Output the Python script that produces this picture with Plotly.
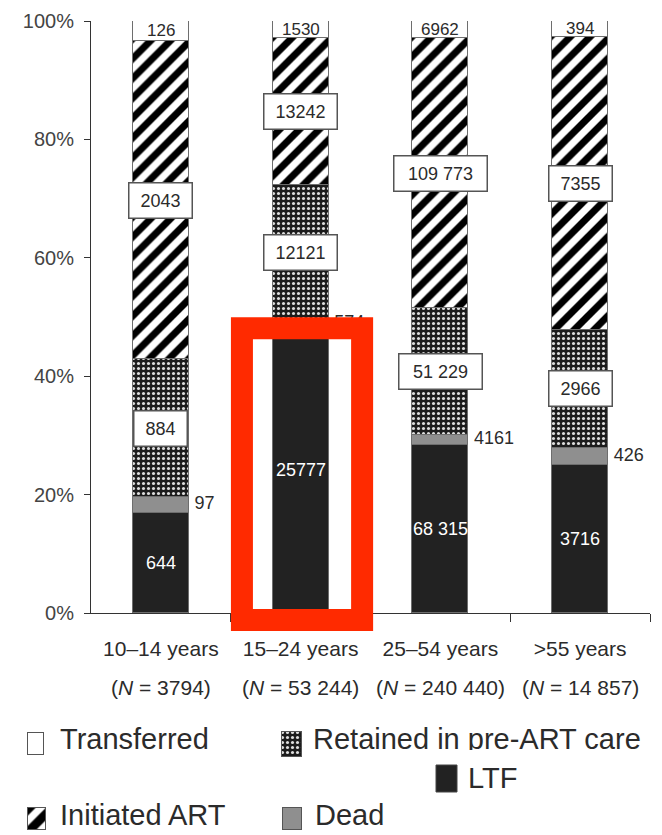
import plotly.graph_objects as go

# Outcome counts per age group (stacked as share of each group's N)
groups = ["10–14 years", "15–24 years", "25–54 years", ">55 years"]
group_n = [3794, 53244, 240440, 14857]
ltf = [644, 25777, 68315, 3716]
dead = [97, 574, 4161, 426]
retained = [884, 12121, 51229, 2966]
initiated_art = [2043, 13242, 109773, 7355]
transferred = [126, 1530, 6962, 394]
space_grouped = [False, False, True, False]
y_ticks = [0, 20, 40, 60, 80, 100]
highlight_group = 1

W, H = 662, 835
PLOT_L, PLOT_R, PLOT_T, PLOT_B = 91, 650, 21, 613
FONT = "Liberation Sans, Arial, sans-serif"
INK = "#2b2b2b"
BAR_W = 0.4
EDGE = dict(color="#6e6e6e", width=1)

HATCH_ART = dict(shape="/", fgcolor="#000000", bgcolor="white", size=14, solidity=0.5,
                 fgopacity=1, fillmode="replace")
HATCH_RET = dict(shape=".", fgcolor="white", bgcolor="#1c1c1c", size=5, solidity=0.3,
                 fgopacity=0.85, fillmode="replace")


def fmt(v, spaced):
    return f"{v:,}".replace(",", " ") if (spaced and v >= 10000) else str(v)


def pct(vals):
    return [v / n * 100 for v, n in zip(vals, group_n)]


xs = list(range(len(groups)))

series = [
    ("LTF", ltf, dict(color="#222222")),
    ("Dead", dead, dict(color="#8f8f8f")),
    ("Retained in pre-ART care", retained, dict(color="#1c1c1c", pattern=HATCH_RET)),
    ("Initiated ART", initiated_art, dict(color="white", pattern=HATCH_ART)),
    ("Transferred", transferred, dict(color="white")),
]

fig = go.Figure()
base = [0.0] * len(xs)
mids = {}
for name, vals, marker in series:
    p = pct(vals)
    mids[name] = [b + v / 2 for b, v in zip(base, p)]
    fig.add_trace(go.Bar(
        x=xs, y=p, width=BAR_W, name=name,
        marker=dict(**marker, line=EDGE, opacity=1),
        showlegend=False, hoverinfo="skip",
    ))
    base = [b + v for b, v in zip(base, p)]

annotations = []
NUM_SIZE = 18


def boxed(i, y, text):
    annotations.append(dict(
        x=i, y=y, xref="x", yref="y", text=text, showarrow=False,
        font=dict(family=FONT, size=NUM_SIZE, color=INK),
        bgcolor="white", bordercolor="#555555", borderwidth=1.5, borderpad=3,
        width=10 * len(text) + 16, height=28, align="center", valign="middle",
    ))


for i in xs:
    sp = space_grouped[i]
    boxed(i, mids["Initiated ART"][i], fmt(initiated_art[i], sp))
    boxed(i, mids["Retained in pre-ART care"][i], fmt(retained[i], sp))
    annotations.append(dict(
        x=i, y=mids["LTF"][i], xref="x", yref="y", text=fmt(ltf[i], sp),
        showarrow=False, font=dict(family=FONT, size=NUM_SIZE, color="white"),
    ))
    annotations.append(dict(
        x=i, y=mids["Transferred"][i], xref="x", yref="y", text=fmt(transferred[i], sp),
        showarrow=False, font=dict(family=FONT, size=17, color=INK),
    ))

# Dead counts sit beside each bar
fig.add_trace(go.Scatter(
    x=[i + BAR_W / 2 + 0.04 for i in xs], y=mids["Dead"],
    text=[fmt(v, s) for v, s in zip(dead, space_grouped)],
    mode="text", textposition="middle right",
    textfont=dict(family=FONT, size=NUM_SIZE, color=INK),
    showlegend=False, hoverinfo="skip", cliponaxis=False,
))


# Red frame around the LTF bar of the highlighted group
def xdom(x):
    return (x + 0.5) / len(xs)


ltf_pct = pct(ltf)
shapes = [dict(
    type="rect", xref="x domain", yref="y domain",
    x0=xdom(highlight_group - 0.42), x1=xdom(highlight_group + 0.44),
    y0=-0.012, y1=(ltf_pct[highlight_group] - 0.3) / 100,
    line=dict(color="#ff2a00", width=22), fillcolor="rgba(0,0,0,0)", layer="above",
)]

# Second line of each category label: group size
for i, n in zip(xs, group_n):
    annotations.append(dict(
        x=i, y=(H - 687) / H, xref="x", yref="paper", yanchor="middle",
        text=f"(<i>N</i> = {fmt(n, True)})", showarrow=False,
        font=dict(family=FONT, size=21, color=INK),
    ))

# ---- legend drawn on a pixel-space overlay axis (x2/y2) ----
LEG_FONT = dict(family=FONT, size=29, color=INK)
icon_specs = [
    # name, x-left, x-right, y-top, y-bottom, marker
    ("Transferred", 28, 44, 733, 755, dict(color="white")),
    ("Initiated ART", 28, 46, 808, 830, dict(color="white", pattern=dict(
        shape="/", fgcolor="#000000", bgcolor="white", size=16, solidity=0.55,
        fgopacity=1, fillmode="replace"))),
    ("Retained in pre-ART care", 282, 302, 732, 757, dict(color="#1c1c1c", pattern=HATCH_RET)),
    ("Dead", 283, 302, 808, 830, dict(color="#8f8f8f")),
]
for name, xl, xr, yt, yb, marker in icon_specs:
    fig.add_trace(go.Bar(
        x=[(xl + xr) / 2], y=[yt - yb], base=[yb], width=[xr - xl],
        marker=dict(**marker, line=dict(color="#555555", width=1.5)),
        xaxis="x2", yaxis="y2", showlegend=False, hoverinfo="skip",
    ))

legend_text = [("Transferred", 60, 742), ("Initiated ART", 60, 818),
               ("Retained in pre-ART care", 313, 742), ("Dead", 315, 818)]
fig.add_trace(go.Scatter(
    x=[t[1] for t in legend_text], y=[t[2] for t in legend_text],
    text=[t[0] for t in legend_text], mode="text", textposition="middle right",
    textfont=LEG_FONT, xaxis="x2", yaxis="y2", showlegend=False, hoverinfo="skip",
    cliponaxis=False,
))

# LTF entry placed on a white patch under the first legend row
shapes.append(dict(type="rect", xref="x2", yref="y2", x0=422, x1=563, y0=750, y1=802,
                   fillcolor="white", line=dict(width=0), layer="above"))
shapes.append(dict(type="rect", xref="x2", yref="y2", x0=436, x1=457, y0=765, y1=792,
                   fillcolor="#222222", line=dict(color="#444444", width=1), layer="above"))
annotations.append(dict(x=466, y=778, xref="x2", yref="y2", text="LTF", showarrow=False,
                        xanchor="left", yanchor="middle", font=LEG_FONT))

fig.update_layout(
    width=W, height=H,
    margin=dict(l=0, r=0, t=0, b=0),
    paper_bgcolor="white", plot_bgcolor="rgba(0,0,0,0)",
    barmode="stack", bargap=0,
    font=dict(family=FONT, color=INK),
    showlegend=False,
    annotations=annotations,
    shapes=shapes,
    xaxis=dict(
        domain=[PLOT_L / W, PLOT_R / W], range=[-0.5, len(xs) - 0.5],
        tickvals=xs, ticktext=groups, ticks="", tickangle=0, ticklabelstandoff=17,
        tickfont=dict(family=FONT, size=21, color=INK),
        showline=True, linecolor="#333333", linewidth=1,
        showgrid=False, zeroline=False, automargin=False, fixedrange=True,
        minor=dict(tickvals=[i + 0.5 for i in xs], ticks="outside", ticklen=8,
                   tickcolor="#333333", showgrid=False),
    ),
    yaxis=dict(
        domain=[(H - PLOT_B) / H, (H - PLOT_T) / H], range=[0, 100],
        tickvals=y_ticks, ticktext=[f"{t}%" for t in y_ticks],
        ticks="outside", ticklen=6, tickcolor="#333333", ticklabelstandoff=6,
        tickfont=dict(family=FONT, size=20, color="#444444"),
        showline=True, linecolor="#333333", linewidth=1,
        showgrid=False, zeroline=False, automargin=False, fixedrange=True,
    ),
    xaxis2=dict(domain=[0, 1], range=[0, W], visible=False, anchor="y2", fixedrange=True),
    yaxis2=dict(domain=[0, 1], range=[H, 0], visible=False, anchor="x2", fixedrange=True),
)

fig.write_html("out.html")
